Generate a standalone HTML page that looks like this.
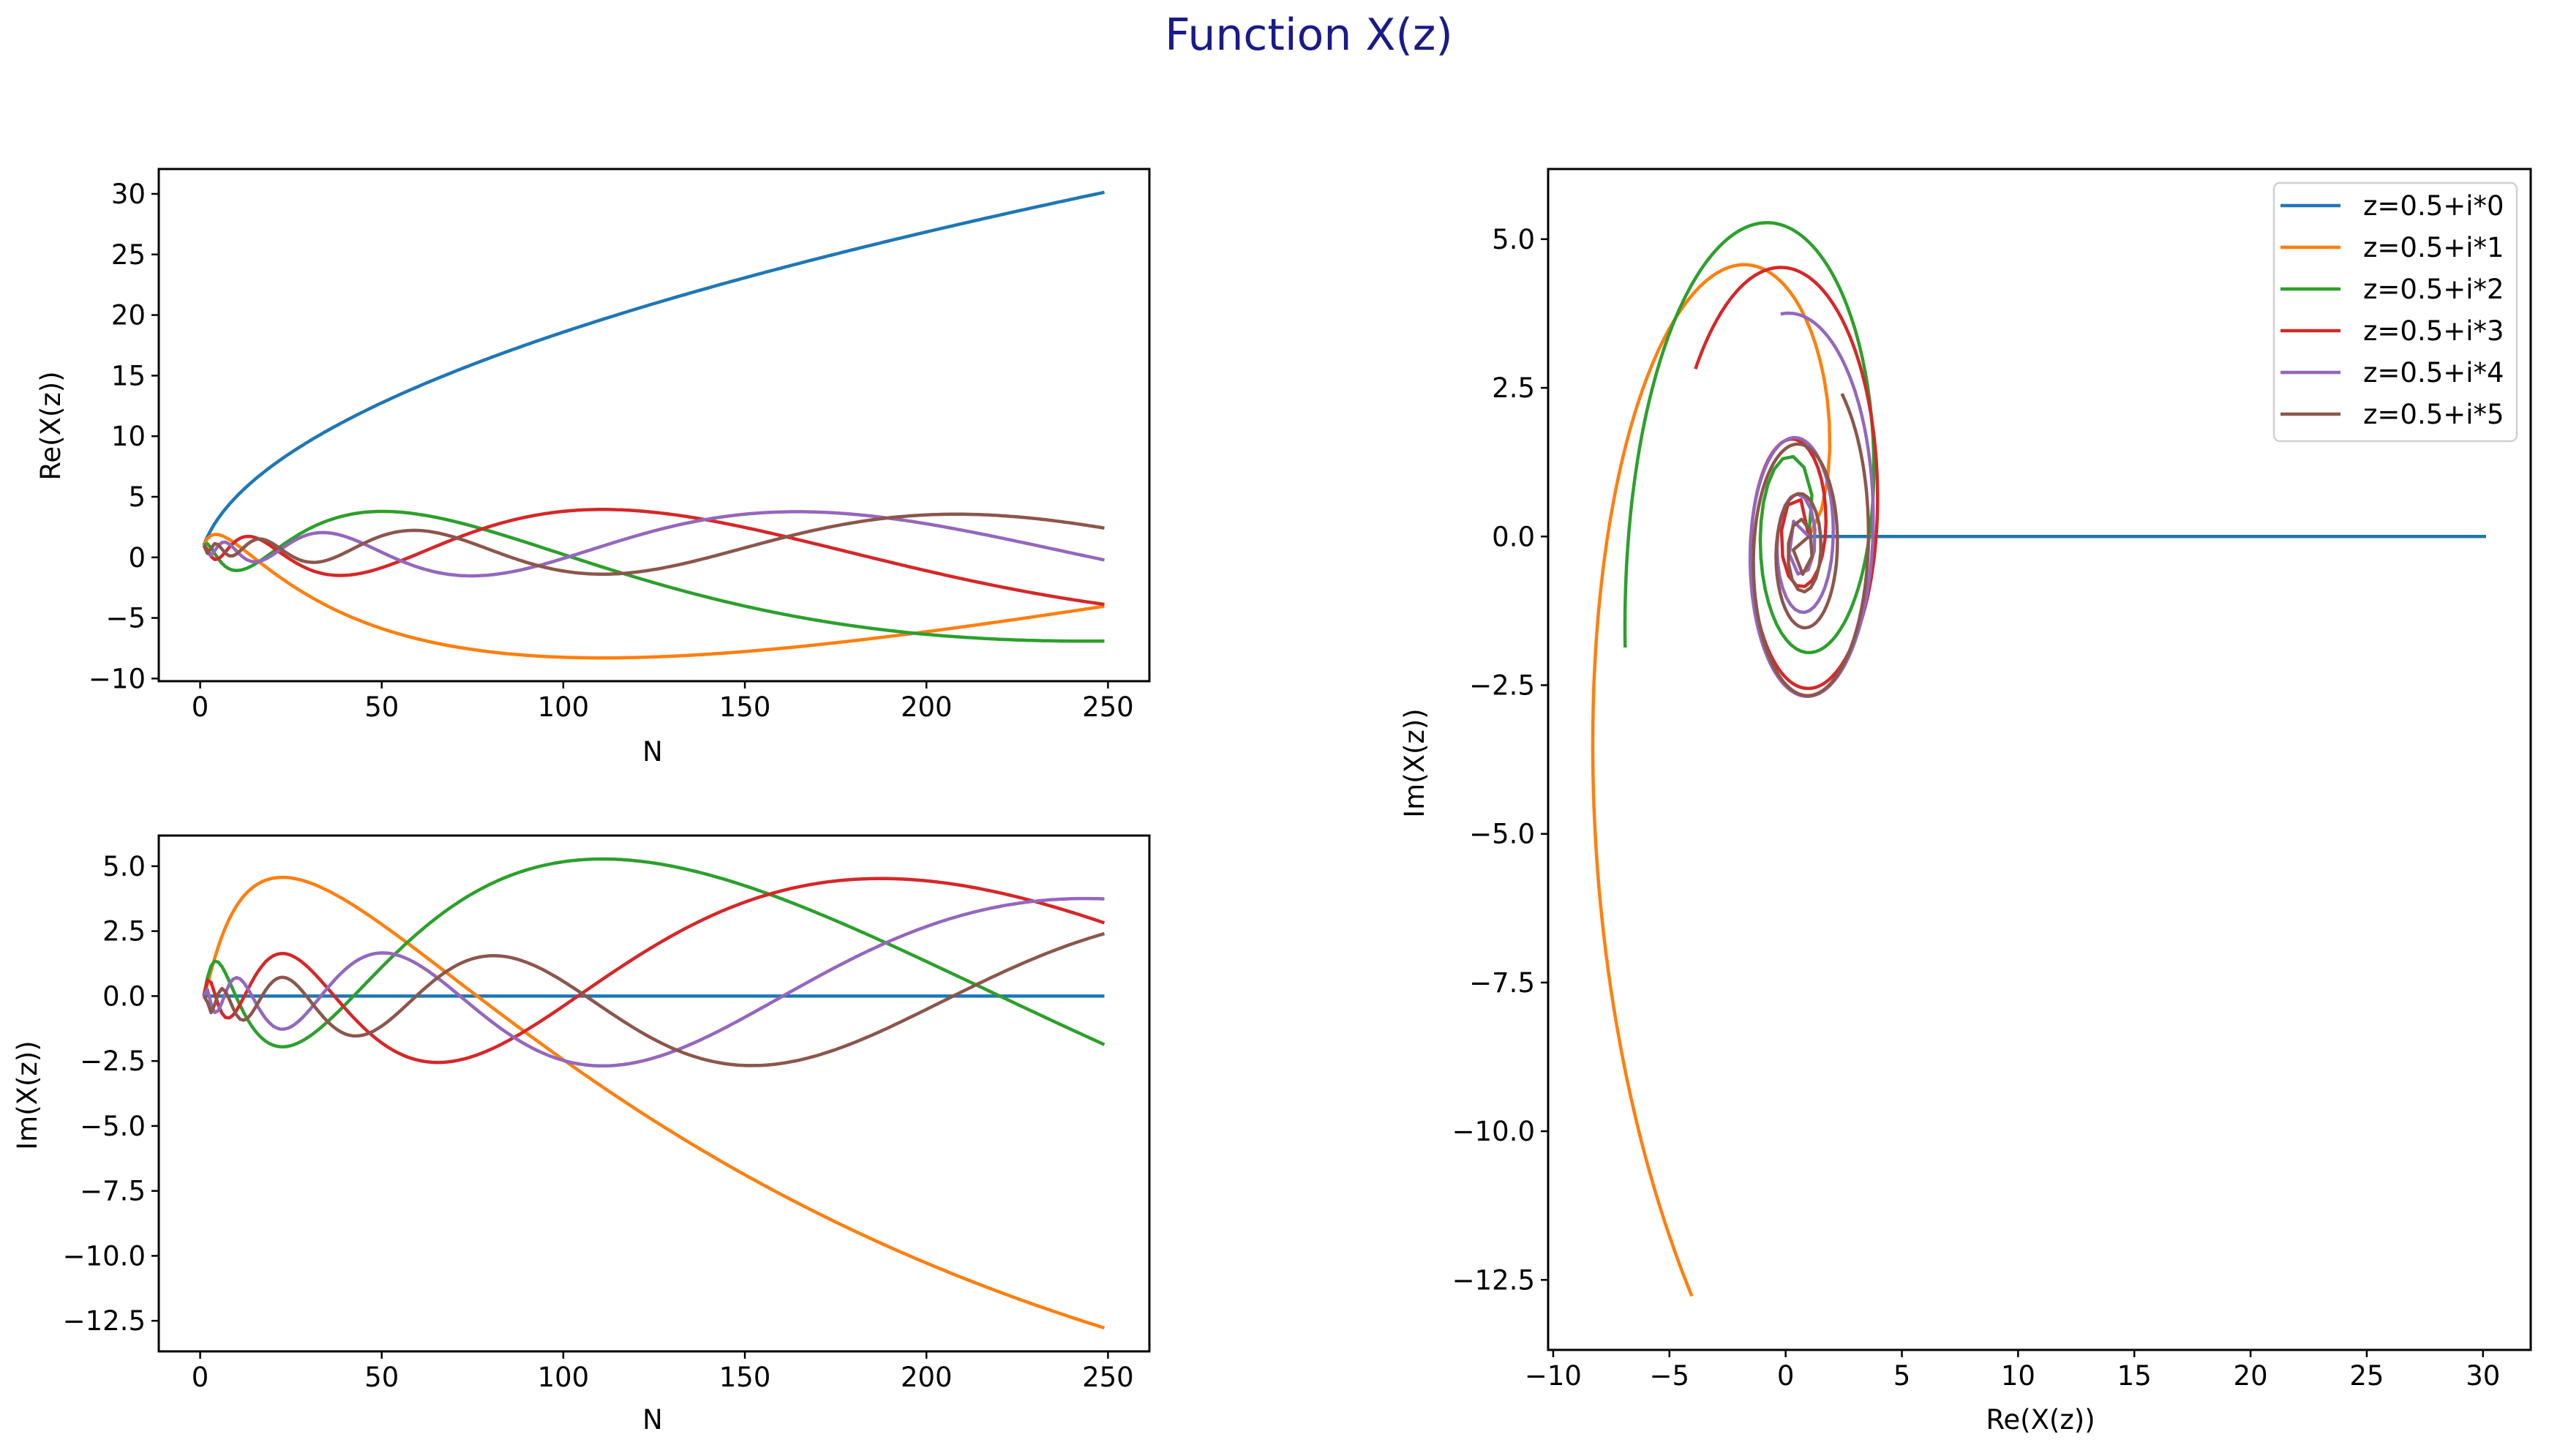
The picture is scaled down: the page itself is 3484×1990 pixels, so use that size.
<!DOCTYPE html>
<html><head><meta charset="utf-8"><style>
html,body{margin:0;padding:0;background:#fff;}
svg{display:block;font-family:"DejaVu Sans","Liberation Sans",sans-serif;}
</style></head><body>
<svg id="fig" width="3484" height="1990" viewBox="0 0 3484 1990" xmlns="http://www.w3.org/2000/svg">
<text x="1789" y="68" font-size="60" fill="#1a1a8a" text-anchor="middle">Function X(z)</text>
</svg>
<script>
// data
const realPart = [0.5];
const imagParts = [0, 1, 2, 3, 4, 5];
const nMax = [249];
const xTicksN = [0, 50, 100, 150, 200, 250];
const yTicksRe = [-10, -5, 0, 5, 10, 15, 20, 25, 30];
const yTicksIm = [-12.5, -10.0, -7.5, -5.0, -2.5, 0.0, 2.5, 5.0];
const xTicksPlane = [-10, -5, 0, 5, 10, 15, 20, 25, 30];
const yTicksPlane = [-12.5, -10.0, -7.5, -5.0, -2.5, 0.0, 2.5, 5.0];
const colors = ['#1f77b4','#ff7f0e','#2ca02c','#d62728','#9467bd','#8c564b'];

const NS = 'http://www.w3.org/2000/svg';
const fig = document.getElementById('fig');
function mk(tag, attrs, parent){const e=document.createElementNS(NS,tag);for(const k in attrs)e.setAttribute(k,attrs[k]);(parent||fig).appendChild(e);return e;}

// series: partial sums
const series = imagParts.map(t=>{
  const N=[],re=[],im=[];let sr=0,si=0;
  for(let n=1;n<=nMax[0];n++){const a=Math.pow(n,-realPart[0]);const ph=t*Math.log(n);sr+=a*Math.cos(ph);si+=a*Math.sin(ph);N.push(n);re.push(sr);im.push(si);}
  return {N,re,im};
});
function lim(arrs){let lo=Infinity,hi=-Infinity;arrs.forEach(a=>a.forEach(v=>{if(v<lo)lo=v;if(v>hi)hi=v;}));const m=(hi-lo)*0.05;return [lo-m,hi+m];}
function fmt(v,dec){return (v<0?'\u2212':'')+Math.abs(v).toFixed(dec);}

function axes(name,box,xl,yl,xt,yt,xdec,ydec,xlabel,ylabel,xlabPos,ylabPos,getX,getY){
  const g=mk('g',{});
  
  
  const sx=v=>box.l+(v-xl[0])/(xl[1]-xl[0])*(box.r-box.l);
  const sy=v=>box.b-(v-yl[0])/(yl[1]-yl[0])*(box.b-box.t);
  const cp='clip-'+name;
  const defs=mk('defs',{},g);const c=mk('clipPath',{id:cp},defs);mk('rect',{x:box.l,y:box.t,width:box.r-box.l,height:box.b-box.t},c);
  const lg=mk('g',{'clip-path':'url(#'+cp+')'},g);
  series.forEach((s,i)=>{
    let d='';const xs=getX(s),ys=getY(s);
    for(let k=0;k<xs.length;k++)d+=(k?'L':'M')+sx(xs[k]).toFixed(1)+','+sy(ys[k]).toFixed(1);
    const p=mk('path',{d:d,fill:'none',stroke:colors[i],'stroke-width':4.5,'stroke-linejoin':'round'},lg);
    
    
  });
  mk('rect',{x:box.l,y:box.t,width:box.r-box.l,height:box.b-box.t,fill:'none',stroke:'#000','stroke-width':3},g);
  xt.forEach(v=>{const x=sx(v);mk('line',{x1:x,y1:box.b,x2:x,y2:box.b+10,stroke:'#000','stroke-width':2.5},g);
    const t=mk('text',{x:x,y:box.b+48,'font-size':37,'text-anchor':'middle',fill:'#000'},g);t.textContent=fmt(v,xdec);
    
    });
  yt.forEach(v=>{const y=sy(v);mk('line',{x1:box.l-10,y1:y,x2:box.l,y2:y,stroke:'#000','stroke-width':2.5},g);
    const t=mk('text',{x:box.l-18,y:y+13,'font-size':37,'text-anchor':'end',fill:'#000'},g);t.textContent=fmt(v,ydec);
    
    });
  const xa=mk('text',{x:xlabPos[0],y:xlabPos[1],'font-size':37,'text-anchor':'middle'},g);xa.textContent=xlabel;
  
  
  const ya=mk('text',{x:ylabPos[0],y:ylabPos[1],'font-size':37,'text-anchor':'middle',transform:'rotate(-90 '+ylabPos[0]+' '+ylabPos[1]+')'},g);ya.textContent=ylabel;
  
  
}
const nLim=lim(series.map(s=>s.N));
axes('re-vs-n-plot',{l:217,r:1571,t:231,b:931},nLim,lim(series.map(s=>s.re)),xTicksN,yTicksRe,0,0,'N','Re(X(z))',[892,1040],[82,582],s=>s.N,s=>s.re);
axes('im-vs-n-plot',{l:217,r:1571,t:1142,b:1847},nLim,lim(series.map(s=>s.im)),xTicksN,yTicksIm,0,1,'N','Im(X(z))',[892,1953],[50,1497],s=>s.N,s=>s.im);
axes('complex-plane-plot',{l:2116,r:3459,t:231,b:1845},lim(series.map(s=>s.re)),lim(series.map(s=>s.im)),xTicksPlane,yTicksPlane,0,1,'Re(X(z))','Im(X(z))',[2789,1953],[1946,1043],s=>s.re,s=>s.im);

// legend
const lgd=mk('g',{});


mk('rect',{x:3108,y:250,width:332,height:353,rx:8,fill:'#fff',stroke:'#d0d0d0','stroke-width':2.5},lgd);
imagParts.forEach((t,i)=>{
  const y=281+i*57;
  const e=mk('g',{},lgd);
  
  
  mk('line',{x1:3117,y1:y,x2:3199,y2:y,stroke:colors[i],'stroke-width':4.5},e);
  const tx=mk('text',{x:3230,y:y+13,'font-size':37,fill:'#000'},e);tx.textContent='z='+realPart[0]+'+i*'+t;
});
</script>
</body></html>
